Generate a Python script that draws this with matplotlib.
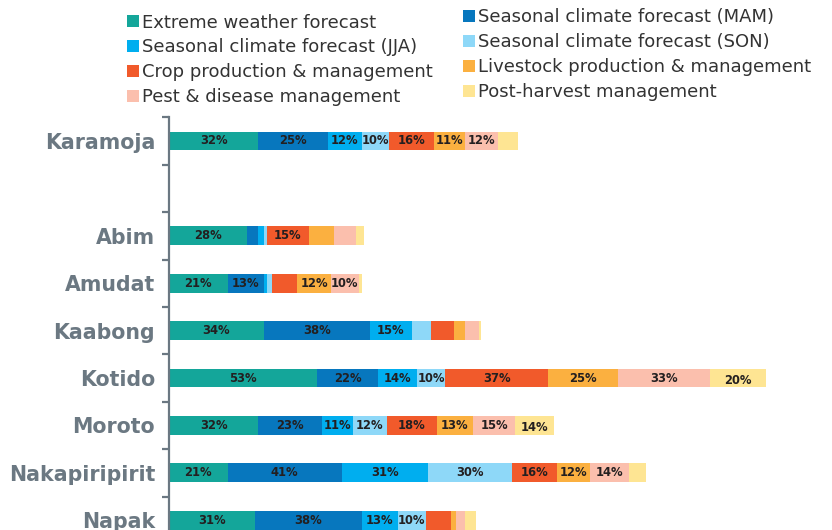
import numpy as np
import matplotlib
matplotlib.use('Agg')
import matplotlib.pyplot as plt
from matplotlib.patches import Patch
from matplotlib import font_manager as fm

regions = ['Karamoja', '', 'Abim', 'Amudat', 'Kaabong', 'Kotido', 'Moroto', 'Nakapiripirit', 'Napak']

series_names = ['Extreme weather forecast', 'Seasonal climate forecast (MAM)',
                'Seasonal climate forecast (JJA)', 'Seasonal climate forecast (SON)',
                'Crop production & management', 'Livestock production & management',
                'Pest & disease management', 'Post-harvest management']

extreme   = [32, 0, 28, 21, 34, 53, 32, 21, 31]
mam       = [25, 0, 4, 13, 38, 22, 23, 41, 38]
jja       = [12, 0, 2, 1, 15, 14, 11, 31, 13]
son       = [10, 0, 1, 2, 7, 10, 12, 30, 10]
crop      = [16, 0, 15, 9, 8, 37, 18, 16, 9]
livestock = [11, 0, 9, 12, 4, 25, 13, 12, 2]
pest      = [12, 0, 8, 10, 5, 33, 15, 14, 3]
post      = [7, 0, 3, 1, 1, 20, 14, 6, 4]

colors = ['#14a69a', '#0777be', '#00aeef', '#8ed8f8',
          '#f15a2b', '#fbb040', '#fbbfad', '#fee593']

all_series = [extreme, mam, jja, son, crop, livestock, pest, post]

# pick a narrow font for the bar labels if one is around
fonts = fm.fontManager.ttflist
names = {f.name for f in fonts}
if 'Liberation Sans Narrow' in names:
    lab_font = dict(family='Liberation Sans Narrow', fontsize=10)
elif any(f.name == 'DejaVu Sans' and f.stretch in ('condensed', 'semi-condensed') for f in fonts):
    lab_font = dict(family='DejaVu Sans', fontstretch='condensed', fontsize=9.3)
else:
    lab_font = dict(family='Liberation Sans', fontsize=8.8)

axis_col = '#6b7882'
W, H = 832, 530
fig = plt.figure(figsize=(W / 100, H / 100), dpi=100)

top_px, step = 117.3, 47.4
bottom_px = top_px + 9 * step
left_px = 169
ax = fig.add_axes([left_px / W, 1 - bottom_px / H, 1 - left_px / W, (bottom_px - top_px) / H])

y = np.arange(len(regions))
left = np.zeros(len(regions))
for k, (vals, col) in enumerate(zip(all_series, colors)):
    vals = np.array(vals, dtype=float)
    ax.barh(y, vals, left=left, height=0.40, color=col, linewidth=0)
    for i, v in enumerate(vals):
        if v >= 10:
            dy = 0.05 if k == 7 else 0.0
            ax.text(left[i] + v / 2, y[i] + dy, f'{int(v)}%', ha='center', va='center',
                    fontweight='bold', color='#231f20', **lab_font)
    left += vals

ax.set_xlim(0, (W - left_px) / 2.79)
ax.set_ylim(8.5, -0.5)

for s in ['top', 'right', 'bottom']:
    ax.spines[s].set_visible(False)
ax.spines['left'].set_color(axis_col)
ax.spines['left'].set_linewidth(1.6)
ax.set_xticks([])
ax.set_yticks(y)
ax.set_yticklabels(regions, fontsize=14.8, fontweight='bold', color=axis_col)
ax.tick_params(axis='y', which='major', length=0, pad=10)
ax.set_yticks(np.arange(-0.5, 9, 1), minor=True)
ax.tick_params(axis='y', which='minor', length=5, width=1.6, color=axis_col, direction='out')

handles = [Patch(facecolor=c, edgecolor='none') for c in colors]
leg_kw = dict(loc='upper left', frameon=False, fontsize=13, borderpad=0, borderaxespad=0,
              handlelength=0.65, handleheight=0.65, handletextpad=0.2, labelspacing=0.38,
              labelcolor='#333333')
leg1 = fig.legend([handles[i] for i in (0, 2, 4, 6)], [series_names[i] for i in (0, 2, 4, 6)],
                  bbox_to_anchor=(127 / W, 1 - 13.5 / H), **leg_kw)
leg2 = fig.legend([handles[i] for i in (1, 3, 5, 7)], [series_names[i] for i in (1, 3, 5, 7)],
                  bbox_to_anchor=(463 / W, 1 - 8.5 / H), **leg_kw)

fig.savefig('out.png', dpi=100)
